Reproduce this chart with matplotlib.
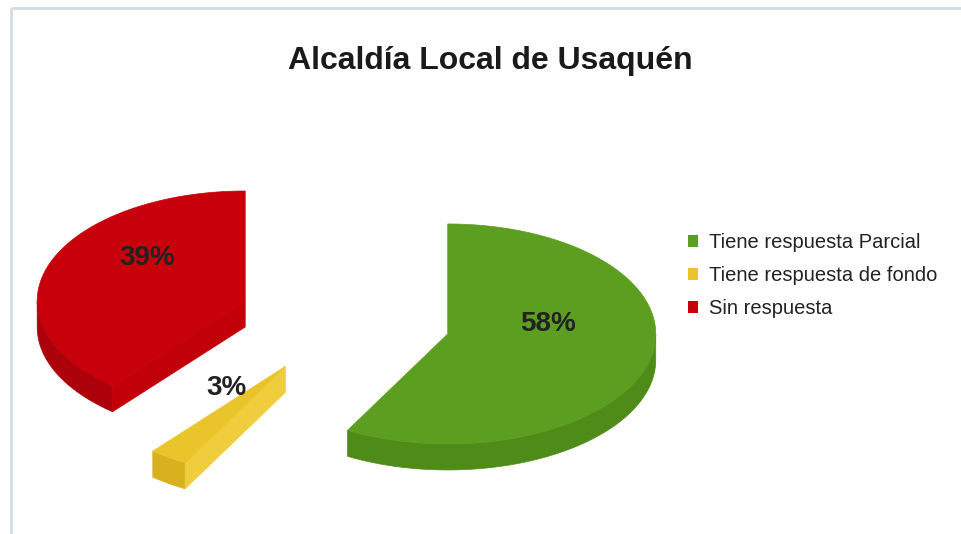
import numpy as np
import matplotlib.pyplot as plt
from matplotlib.patches import Polygon, Rectangle, Patch

plt.rcParams['font.family'] = ['Liberation Sans', 'DejaVu Sans']

# data
labels = ['Tiene respuesta Parcial', 'Tiene respuesta de fondo', 'Sin respuesta']
values = [58, 3, 39]
pct_text = ['58%', '3%', '39%']
top_colors = ['#5c9e1f', '#e9c42b', '#c8000b']
wall_colors = ['#4f8b19', '#d8b11f', '#ac000a']
face_colors = ['#56951c', '#f0cd3c', '#c2000a']

W, H = 961, 534
fig = plt.figure(figsize=(W / 100, H / 100), dpi=100)
ax = fig.add_axes([0, 0, 1, 1])
ax.set_xlim(0, W)
ax.set_ylim(H, 0)
ax.axis('off')

# chart frame
ax.add_patch(Rectangle((11, 8), W, H, fill=False, edgecolor='#d3dbe3', lw=2))

# 3d pie geometry (pixel units)
cx, cy = 345, 320
Rx, Ry = 208, 110
depth = 26
explode = 0.51
lift = 24


def arc(x0, y0, t):
    return np.column_stack([x0 + Rx * np.cos(t), y0 - Ry * np.sin(t)])


total = float(sum(values))
cum = np.cumsum([0] + values) / total
slices = []
for i, v in enumerate(values):
    b = np.deg2rad(90 - cum[i] * 360)
    a = np.deg2rad(90 - cum[i + 1] * 360)
    m = (a + b) / 2
    ox = cx + explode * Rx * np.cos(m)
    oy = cy - explode * Ry * np.sin(m)
    slices.append((oy, i, a, b, m, ox))

# back to front
for oy, i, a, b, m, ox in sorted(slices):
    t = np.linspace(a, b, 300)
    # outer wall (front half only)
    tw = t[np.sin(t) < 0]
    if len(tw) > 1:
        top = arc(ox, oy, tw)
        bot = top + [0, depth]
        ax.add_patch(Polygon(np.vstack([top, bot[::-1]]), closed=True,
                             facecolor=wall_colors[i], edgecolor=wall_colors[i], lw=0.5))
    # radial faces facing the viewer
    for ang, vis in ((b, np.cos(b) < -1e-6), (a, np.cos(a) > 1e-6)):
        if vis:
            p = arc(ox, oy, np.array([ang]))[0]
            pts = [(ox, oy), tuple(p), (p[0], p[1] + depth), (ox, oy + depth)]
            ax.add_patch(Polygon(pts, closed=True, facecolor=face_colors[i],
                                 edgecolor=face_colors[i], lw=0.5))
    # top face
    pts = np.vstack([[ox, oy], arc(ox, oy, t)])
    ax.add_patch(Polygon(pts, closed=True, facecolor=top_colors[i],
                         edgecolor=top_colors[i], lw=0.5))
    # value label
    lx = ox + 0.5 * Rx * np.cos(m)
    ly = oy - 0.5 * Ry * np.sin(m) - lift
    ax.text(lx, ly, pct_text[i], ha='center', va='center', fontsize=20,
            fontweight='bold', color='#222222')

ax.text(490, 61, 'Alcaldía Local de Usaquén', ha='center', va='center',
        fontsize=23, fontweight='bold', color='#1a1a1a')

handles = [Patch(facecolor=c, edgecolor='none') for c in top_colors]
ax.legend(handles, labels, loc='upper left', bbox_to_anchor=(688 / W, 1 - 233 / H),
          bbox_transform=fig.transFigure, frameon=False, fontsize=14.5,
          handlelength=0.5, handleheight=0.5, handletextpad=0.55,
          labelspacing=0.7, borderpad=0, borderaxespad=0, labelcolor='#222222')

plt.savefig('out.png', dpi=100)
